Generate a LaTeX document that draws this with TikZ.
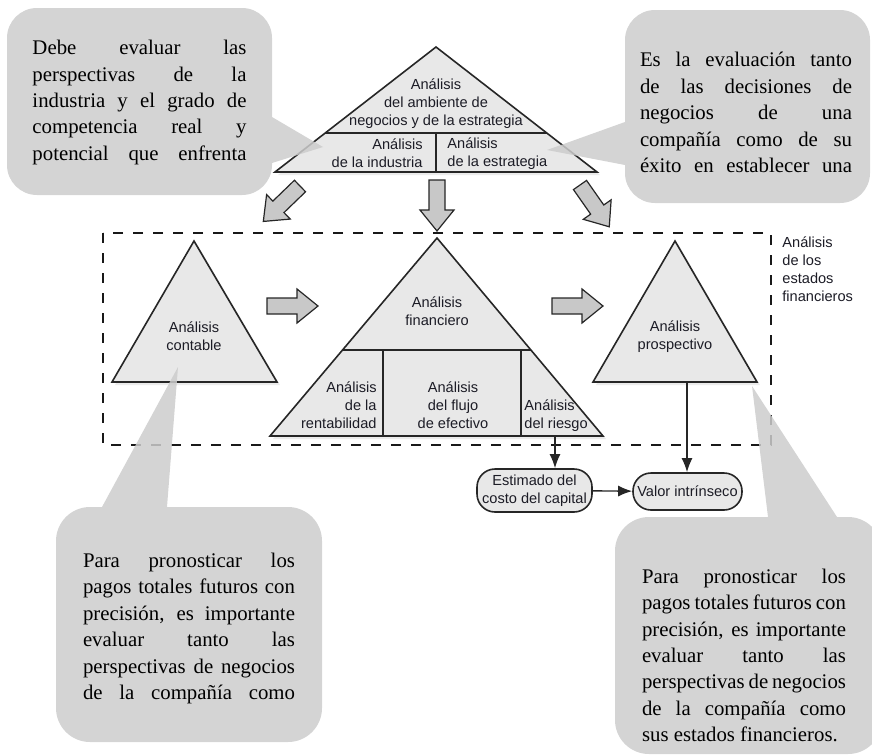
\documentclass[tikz,border=0pt]{standalone}
\usepackage{fontspec}
\setmainfont{Liberation Serif}
\setsansfont{Liberation Sans}
\usetikzlibrary{arrows.meta}
\definecolor{callgray}{RGB}{204,204,204}
\definecolor{trifill}{RGB}{232,232,232}
\definecolor{arrfill}{RGB}{200,200,200}
\definecolor{dtext}{RGB}{28,28,38}

\begin{document}
\begin{tikzpicture}[x=0.5pt,y=-0.5pt,
  tri/.style={draw=black!85,line width=0.8pt,fill=trifill},
  divline/.style={draw=black!85,line width=0.8pt},
  trishade/.style={fill=black!8,shift={(3,3)}},
  lbl/.style={font=\sffamily\fontsize{7.3}{9}\selectfont,text=dtext,inner sep=0pt},
  bubble/.style={fill=callgray,fill opacity=0.85},
  calltext/.style={font=\rmfamily\fontsize{10.4}{13.2}\selectfont,inner sep=0pt,align=left},
  pill/.style={rectangle,rounded corners=9pt,draw=black!85,line width=0.8pt,fill=trifill,
    inner sep=0pt,align=center,font=\sffamily\fontsize{7.3}{9}\selectfont,text=dtext},
  flow/.style={draw=black!85,line width=0.7pt,-{Latex[length=7pt,width=5.5pt]}},
  framebox/.style={draw=black!90,line width=0.9pt,dash pattern=on 5pt off 5pt},
  blkarrow/.pic={\draw[draw=black!85,line width=0.6pt,fill=arrfill]
    (0,-8) -- (30,-8) -- (30,-17) -- (51,0) -- (30,17) -- (30,8) -- (0,8) -- cycle;}]
  \useasboundingbox (0,0) rectangle (872,755);

  % dashed frame
  \draw[framebox] (103,233) rectangle (771,445);
  \node[lbl,anchor=west,align=left] (fslabel) at (782,269) {Análisis\\de los\\estados\\financieros};

  % top triangle
  \fill[trishade] (436,47) -- (597,172) -- (275,172) -- cycle;
  \draw[tri] (436,47) -- (597,172) -- (275,172) -- cycle;
  \draw[divline] (325.2,133) -- (546.8,133);
  \draw[divline] (436,133) -- (436,172);
  \node[lbl,align=center] (envtxt) at (436,103.5) {Análisis\\del ambiente de\\negocios y de la estrategia};
  \node[lbl,anchor=east,align=right] (indtxt) at (423,153.5) {Análisis\\de la industria};
  \node[lbl,anchor=west,align=left] (strtxt) at (447,153.5) {Análisis\\de la estrategia};

  % block arrows
  \pic[rotate=-136] (arrL) at (300,186) {blkarrow};
  \pic[rotate=-90] (arrM) at (437,180) {blkarrow};
  \pic[rotate=-55] (arrR) at (580,185) {blkarrow};
  \pic (arrA) at (267,306) {blkarrow};
  \pic (arrB) at (552,306) {blkarrow};

  % left triangle
  \fill[trishade] (194,241) -- (277,382) -- (112,382) -- cycle;
  \draw[tri] (194,241) -- (277,382) -- (112,382) -- cycle;
  \node[lbl,align=center] (acctxt) at (194,336.5) {Análisis\\contable};

  % middle triangle
  \fill[trishade] (437,238) -- (603,436) -- (270,436) -- cycle;
  \draw[tri] (437,238) -- (603,436) -- (270,436) -- cycle;
  \draw[divline] (342.5,350) -- (530.9,350);
  \draw[divline] (383,350) -- (383,436);
  \draw[divline] (521,350) -- (521,436);
  \node[lbl,align=center] (fintxt) at (437,311) {Análisis\\financiero};
  \node[lbl,anchor=east,align=right] (rentxt) at (377,405.5) {Análisis\\de la\\rentabilidad};
  \node[lbl,align=center] (cashtxt) at (453,405) {Análisis\\del flujo\\de efectivo};
  \node[lbl,anchor=west,align=left] (risktxt) at (524,416) {Análisis\\del riesgo};

  % right triangle
  \fill[trishade] (675,241) -- (757,382) -- (593,382) -- cycle;
  \draw[tri] (675,241) -- (757,382) -- (593,382) -- cycle;
  \node[lbl,align=center] (prostxt) at (675,336.5) {Análisis\\prospectivo};

  % valuation
  \coordinate (riskfoot) at (555,436);
  \coordinate (prosfoot) at (687,382);
  \node[pill,minimum width=57.5pt,minimum height=21.5pt] (costcap) at (534.5,490.5) {Estimado del\\costo del capital};
  \node[pill,minimum width=54.5pt,minimum height=18.5pt] (intrval) at (687.5,491.5) {Valor intrínseco};
  \draw[flow] (riskfoot) -- (riskfoot |- costcap.north);
  \draw[flow] (prosfoot) -- (prosfoot |- intrval.north);
  \draw[flow] (costcap) -- (intrval);

  % callouts
  \fill[bubble] (7,8) [rounded corners=15pt] rectangle (272,195)
    [sharp corners] (272,117) -- (323,147) -- (272,163) -- cycle;
  \node[calltext] (indnote) at (139.5,102.5) {\makebox[107pt][s]{Debe evaluar las}\\
    \makebox[107pt][s]{perspectivas de la}\\
    \makebox[107pt][s]{industria y el grado de}\\
    \makebox[107pt][s]{competencia real y}\\
    \makebox[107pt][s]{potencial que enfrenta}};

  \fill[bubble] (625,10) [rounded corners=15pt] rectangle (870,203)
    [sharp corners] (625,122) -- (547,150) -- (625,165) -- cycle;
  \node[calltext] (strnote) at (746,112.5) {\makebox[106pt][s]{Es la evaluación tanto}\\
    \makebox[106pt][s]{de las decisiones de}\\
    \makebox[106pt][s]{negocios de una}\\
    \makebox[106pt][s]{compañía como de su}\\
    \makebox[106pt][s]{éxito en establecer una}};

  \fill[bubble] (56,507) [rounded corners=17pt] rectangle (322,742)
    [sharp corners] (102,507) -- (178,367) -- (167,507) -- cycle;
  \node[calltext] (accnote) at (189,628.5) {\makebox[106pt][s]{Para pronosticar los}\\
    \makebox[106pt][s]{pagos totales futuros con}\\
    \makebox[106pt][s]{precisión, es importante}\\
    \makebox[106pt][s]{evaluar tanto las}\\
    \makebox[106pt][s]{perspectivas de negocios}\\
    \makebox[106pt][s]{de la compañía como}};

  \fill[bubble] (615,517) [rounded corners=17pt] rectangle (882,754)
    [sharp corners] (768,517) -- (752,386) -- (837,517) -- cycle;
  \node[calltext] (prosnote) at (744,655.5) {\makebox[102pt][s]{Para pronosticar los}\\
    \makebox[102pt][s]{pagos totales futuros con}\\
    \makebox[102pt][s]{precisión, es importante}\\
    \makebox[102pt][s]{evaluar tanto las}\\
    \makebox[102pt][s]{perspectivas de negocios}\\
    \makebox[102pt][s]{de la compañía como}\\
    \makebox[102pt][l]{sus estados financieros.}};
\end{tikzpicture}
\end{document}
